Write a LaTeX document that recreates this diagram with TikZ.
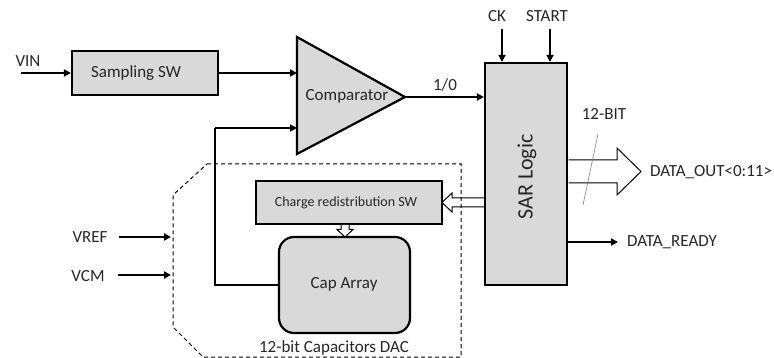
\documentclass[tikz,border=0pt]{standalone}
\usepackage{fontspec}
\setmainfont{Carlito}
\usetikzlibrary{arrows.meta}
\definecolor{boxgray}{HTML}{D9D9D9}
\definecolor{txt}{HTML}{262626}
\begin{document}
\begin{tikzpicture}[x=1pt,y=-1pt,line join=miter,
  blk/.style={draw,line width=2.2pt,fill=boxgray,inner sep=0pt},
  arr/.style={line width=2.2pt,-{Triangle[length=7pt,width=7pt]}},
  hollow/.style={draw,line width=1pt,fill=white},
  lbl/.style={font=\fontsize{17}{20}\selectfont,text=txt,inner sep=0pt},
  small/.style={font=\fontsize{14}{16}\selectfont,text=txt,inner sep=0pt}]
\useasboundingbox (0,0) rectangle (774,358);

% blocks
\node[blk,minimum width=146pt,minimum height=44pt] (samp) at (145,73) {};
\node[lbl] (samptxt) at (136,73) {Sampling SW};

\draw[blk] (297,37) -- (405,97) -- (297,154) -- cycle;
\coordinate (cin1) at (297,73);
\coordinate (cin2) at (297,128);
\coordinate (cout) at (405,97);
\node[lbl] (comp) at (347,96) {Comparator};

\node[blk,minimum width=82pt,minimum height=222pt] (sar) at (526,174) {};
\node[font=\fontsize{22}{24}\selectfont,text=txt,inner sep=0pt,rotate=90] (sartxt) at (527,177) {SAR Logic};

\node[blk,minimum width=186pt,minimum height=43pt] (chg) at (349,202.5) {};
\node[small] (chgtxt) at (346,203) {Charge redistribution SW};

\node[blk,minimum width=131pt,minimum height=96pt,rounded corners=15pt] (cap) at (344.5,285) {};
\node[lbl] (captxt) at (344,284) {Cap Array};

% SAR to charge SW bus
\draw[line width=1pt] (484,198) -- (452,198) -- (452,193) -- (442,202.5) -- (452,212) -- (452,207) -- (484,207);

% dashed DAC outline
\draw[line width=1pt,dash pattern=on 4pt off 3pt]
  (207,164) -- (461,164) -- (461,357) -- (203,357) -- (173,327) -- (173,195) -- cycle;
\node[lbl] (daclbl) at (334,348) {12-bit Capacitors DAC};

% inputs
\node[lbl] (vin) at (28,61) {VIN};
\coordinate (vinst) at (21,73);
\draw[arr] (vinst) -- (samp.west);
\draw[arr] (samp.east) -- (cin1);

\coordinate (fb) at (215,128);
\draw[line width=2.2pt] (cap.west) -| (fb);
\draw[arr] (fb) -- (cin2);

\draw[arr] (cout) -- (sar.west |- cout);
\node[lbl] (bit) at (445,85) {1/0};

\node[lbl] (ck) at (497,16) {CK};
\node[lbl] (start) at (547,16) {START};
\coordinate (cks) at (502,29);
\coordinate (sts) at (550,29);
\draw[arr] (cks) -- (cks |- sar.north);
\draw[arr] (sts) -- (sts |- sar.north);

\node[lbl] (vref) at (90,237) {VREF};
\node[lbl] (vcm) at (88,276) {VCM};
\coordinate (vrefs) at (119,237);
\coordinate (vrefe) at (171,237);
\coordinate (vcms) at (118,275);
\coordinate (vcme) at (171,275);
\draw[arr] (vrefs) -- (vrefe);
\draw[arr] (vcms) -- (vcme);

% bus output
\draw[hollow] (568.5,160) -- (617,160) -- (617,148) -- (641,171.5) -- (617,195) -- (617,183) -- (568.5,183);
\draw[gray,line width=0.6pt] (598,134) -- (583,205);
\node[lbl] (bits12) at (604,114) {12-BIT};
\node[lbl,anchor=west] (dout) at (650,172) {DATA\_OUT<0:11>};

% data ready
\coordinate (dr) at (618,242);
\draw[arr] (dr -| sar.east) -- (dr);
\node[lbl,anchor=west] (drdy) at (627,242) {DATA\_READY};

% charge SW to cap array
\draw[hollow] (341,225) -- (341,229.5) -- (337,229.5) -- (345,237) -- (353,229.5) -- (349,229.5) -- (349,225);
\end{tikzpicture}
\end{document}
